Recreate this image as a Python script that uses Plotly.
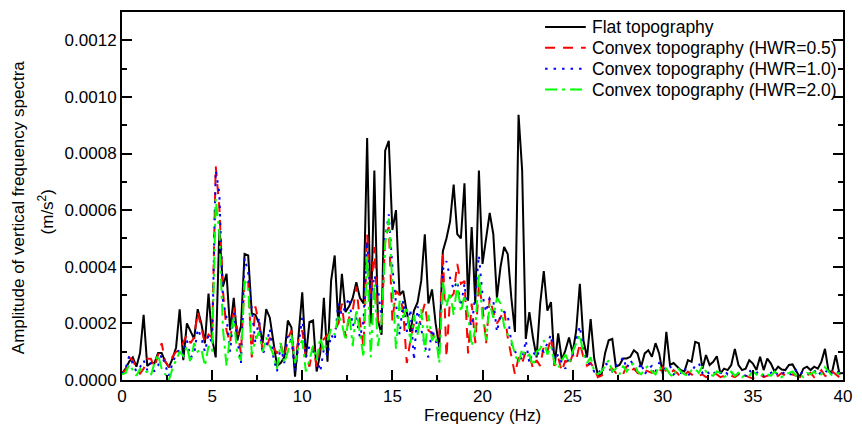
import numpy as np
import plotly.graph_objects as go

# Frequency grid (Hz), 0.2 Hz spacing
freq = np.round(np.arange(201) * 0.2, 1)

# Amplitudes in units of 1e-4 m/s^2
flat = [
    0.23, 0.4, 0.65, 0.8, 0.47, 0.95, 2.3, 0.5, 0.6, 0.6,
    0.95, 0.95, 0.65, 0.45, 0.75, 1.15, 2.5, 0.7, 2.0, 1.7,
    1.45, 2.5, 2.0, 1.3, 3.05, 1.45, 0.8, 5.3, 3.3, 3.75,
    1.75, 2.9, 1.4, 1.9, 4.45, 4.4, 2.35, 2.3, 2.0, 1.3,
    2.5, 2.2, 1.3, 0.5, 0.6, 0.8, 2.1, 1.85, 0.12, 1.75,
    3.1, 0.8, 2.05, 2.1, 0.3, 0.95, 2.9, 0.65, 3.5, 4.4,
    2.0, 3.75, 2.4, 2.6, 2.9, 3.45, 2.9, 2.7, 8.55, 2.0,
    7.4, 2.1, 1.6, 8.1, 8.45, 5.3, 6.0, 3.0, 3.15, 2.4,
    1.7, 2.45, 2.75, 3.5, 5.15, 2.7, 3.2, 2.0, 1.15, 4.55,
    5.0, 5.6, 6.9, 5.15, 5.0, 6.95, 2.8, 5.4, 2.7, 7.4,
    4.1, 5.0, 5.9, 5.15, 2.9, 4.0, 4.7, 4.45, 2.9, 1.7,
    9.37, 7.4, 1.45, 2.4, 1.5, 0.8, 2.7, 3.85, 2.45, 2.75,
    0.5, 1.65, 0.7, 1.05, 1.5, 0.95, 1.75, 3.4, 1.4, 0.8,
    2.15, 0.75, 0.18, 0.18, 0.95, 1.4, 1.45, 0.47, 0.53, 0.76,
    0.76, 0.82, 1.05, 0.94, 0.47, 0.94, 1.05, 0.82, 1.3, 0.94,
    0.23, 1.7, 0.53, 0.6, 0.47, 0.35, 0.3, 0.7, 0.64, 1.35,
    1.3, 0.4, 0.88, 0.53, 0.64, 0.84, 0.23, 0.4, 0.35, 0.53,
    1.1, 0.53, 0.35, 0.4, 0.7, 0.58, 0.35, 0.82, 0.35, 0.76,
    0.58, 0.3, 0.47, 0.37, 0.35, 0.53, 0.55, 0.3, 0.1, 0.4,
    0.47, 0.35, 0.47, 0.4, 0.64, 1.1, 0.3, 0.3, 0.88, 0.23,
    0.25,
]

hwr05 = [
    0.23, 0.35, 0.8, 0.7, 0.4, 0.23, 0.4, 0.75, 0.75, 0.45,
    0.88, 1.3, 0.65, 0.47, 0.82, 1.0, 1.05, 1.3, 1.6, 1.3,
    1.5, 2.4, 1.8, 1.3, 1.6, 1.5, 7.55, 6.1, 3.15, 1.75,
    1.3, 2.6, 1.75, 0.94, 3.6, 3.5, 0.8, 2.6, 2.0, 1.05,
    1.1, 1.5, 1.15, 0.94, 1.3, 0.8, 1.45, 1.75, 0.6, 1.5,
    1.75, 0.8, 0.47, 1.2, 0.47, 1.2, 1.45, 1.6, 1.6, 1.75,
    2.0, 2.7, 1.5, 2.2, 2.45, 3.3, 2.1, 1.15, 5.15, 2.9,
    4.7, 2.1, 1.9, 5.0, 5.4, 2.1, 3.15, 3.0, 2.45, 0.6,
    1.4, 2.0, 1.75, 2.2, 2.7, 1.75, 1.65, 1.4, 1.5, 4.55,
    0.8, 2.9, 3.05, 4.1, 3.4, 3.5, 0.94, 2.7, 1.3, 3.4,
    2.6, 1.3, 2.9, 2.4, 2.0, 2.2, 2.5, 1.5, 0.8, 0.2,
    0.8, 0.6, 1.0, 0.9, 0.4, 0.7, 0.5, 1.2, 1.0, 1.5,
    0.5, 0.8, 0.3, 0.7, 0.5, 0.9, 0.7, 1.3, 0.8, 0.5,
    0.6, 0.4, 0.1, 0.15, 0.3, 0.35, 0.4, 0.25, 0.3, 0.2,
    0.5, 0.3, 0.4, 0.25, 0.2, 0.35, 0.3, 0.25, 0.4, 0.3,
    0.45, 0.3, 0.2, 0.35, 0.25, 0.1, 0.15, 0.3, 0.2, 0.1,
    0.15, 0.2, 0.1, 0.15, 0.25, 0.2, 0.1, 0.15, 0.2, 0.15,
    0.1, 0.2, 0.3, 0.15, 0.1, 0.05, 0.15, 0.2, 0.1, 0.15,
    0.2, 0.1, 0.15, 0.25, 0.15, 0.1, 0.2, 0.15, 0.1, 0.2,
    0.15, 0.25, 0.1, 0.2, 0.35, 0.15, 0.1, 0.3, 0.2, 0.1,
    0.15,
]

hwr10 = [
    0.2, 0.4, 0.85, 0.55, 0.3, 0.45, 0.7, 0.35, 0.6, 0.3,
    0.5, 0.9, 0.55, 0.15, 0.6, 0.9, 1.1, 0.9, 1.4, 0.8,
    0.9, 1.8, 1.5, 1.0, 1.6, 1.3, 7.4, 6.6, 2.8, 2.2,
    1.0, 2.4, 1.4, 0.6, 4.3, 3.8, 2.5, 1.3, 2.2, 0.9,
    1.2, 1.8, 0.8, 0.3, 1.2, 0.6, 1.6, 1.4, 0.3, 1.3,
    2.2, 0.8, 1.2, 1.0, 0.9, 0.3, 1.1, 0.85, 1.6, 1.4,
    2.7, 2.3, 2.6, 2.9, 1.9, 2.2, 1.5, 2.1, 4.9, 2.8,
    3.7, 3.2, 2.2, 5.0, 5.85, 4.0, 2.7, 1.6, 2.8, 1.7,
    2.5, 0.7, 2.6, 1.8, 1.2, 0.8, 1.8, 1.4, 1.0, 3.9,
    4.2, 3.6, 3.2, 3.5, 2.6, 3.4, 2.2, 1.9, 3.0, 4.4,
    3.0, 2.4, 2.9, 2.8, 1.7, 2.3, 2.4, 2.3, 1.3, 1.0,
    0.9, 0.7, 1.4, 0.6, 1.0, 0.8, 1.1, 1.0, 1.3, 1.6,
    0.7, 0.9, 0.6, 0.4, 0.8, 0.9, 1.4, 1.9, 1.0, 0.7,
    0.5, 0.3, 0.4, 0.2, 0.6, 0.5, 0.3, 0.5, 0.6, 0.8,
    0.4, 0.7, 0.5, 0.3, 0.6, 0.2, 0.4, 0.5, 0.3, 0.6,
    0.5, 0.35, 0.5, 0.2, 0.3, 0.25, 0.45, 0.15, 0.3, 0.5,
    0.6, 0.25, 0.35, 0.2, 0.3, 0.15, 0.25, 0.35, 0.2, 0.3,
    0.1, 0.25, 0.2, 0.15, 0.35, 0.2, 0.25, 0.3, 0.15, 0.2,
    0.25, 0.35, 0.15, 0.2, 0.3, 0.25, 0.15, 0.35, 0.2, 0.3,
    0.25, 0.2, 0.35, 0.15, 0.3, 0.25, 0.4, 0.2, 0.3, 0.25,
    0.2,
]

hwr20 = [
    0.2, 0.25, 0.55, 0.35, 0.15, 0.4, 0.25, 0.3, 0.15, 0.6,
    0.9, 0.4, 0.2, 0.0, 0.4, 0.7, 1.0, 0.85, 1.2, 0.6,
    1.3, 1.0, 1.1, 0.5, 1.2, 1.0, 6.4, 5.2, 1.8, 0.5,
    1.6, 2.2, 0.9, 0.7, 3.5, 3.3, 0.9, 1.4, 1.7, 1.0,
    1.5, 1.2, 0.9, 0.4, 1.3, 0.6, 1.0, 1.6, 0.6, 1.2,
    1.4, 0.3, 0.7, 1.2, 0.7, 1.5, 1.0, 1.4, 1.8, 1.6,
    2.3, 2.0, 1.4, 2.4, 1.2, 2.5, 1.6, 0.8, 4.4, 0.8,
    3.4, 1.2, 2.0, 4.8, 5.7, 3.4, 1.1, 2.8, 2.2, 2.6,
    1.3, 2.3, 1.6, 2.5, 1.0, 2.3, 1.4, 1.6, 0.6, 3.5,
    2.6, 3.1, 2.3, 3.4, 2.4, 3.0, 2.3, 1.2, 1.8, 3.8,
    2.2, 1.4, 2.7, 2.2, 2.9, 2.7, 1.9, 1.6, 1.4, 0.9,
    0.6, 1.1, 0.8, 0.9, 0.5, 1.0, 1.1, 1.4, 0.9, 1.2,
    0.6, 0.4, 0.7, 0.9, 0.6, 1.0, 1.3, 1.6, 0.9, 0.6,
    0.8, 0.3, 0.2, 0.3, 0.5, 0.7, 0.3, 0.4, 0.2, 0.5,
    0.3, 0.5, 0.6, 0.3, 0.2, 0.4, 0.5, 0.3, 0.2, 0.5,
    0.3, 0.4, 0.2, 0.1, 0.45, 0.3, 0.2, 0.15, 0.35, 0.4,
    0.25, 0.5, 0.3, 0.2, 0.15, 0.3, 0.25, 0.1, 0.2, 0.3,
    0.15, 0.25, 0.1, 0.2, 0.15, 0.3, 0.2, 0.1, 0.25, 0.2,
    0.15, 0.3, 0.2, 0.1, 0.2, 0.25, 0.3, 0.15, 0.2, 0.1,
    0.25, 0.2, 0.3, 0.15, 0.2, 0.45, 0.3, 0.15, 0.2, 0.25,
    0.15,
]

SCALE = 1e-4  # values above are in 1e-4 m/s^2

series_names = [
    "Flat topography",
    "Convex topography (HWR=0.5)",
    "Convex topography (HWR=1.0)",
    "Convex topography (HWR=2.0)",
]
series_values = [flat, hwr05, hwr10, hwr20]
series_colors = ["#000000", "#ff0000", "#0000ff", "#00ff00"]
series_dash = ["solid", "10px,8px", "2.5px,6px", "12px,5px,3px,5px"]

FONT = "Liberation Sans, Arial, Helvetica, sans-serif"

# plot-area geometry in pixels (for placing legend / title annotations)
W, H = 862, 432
ML, MR, MT, MB = 122, 14, 10, 52
PW, PH = W - ML - MR, H - MT - MB


def px_x(px):
    return (px - ML) / PW


def px_y(py):
    return (H - MB - py) / PH


fig = go.Figure()
for name, vals, col, dash in zip(series_names, series_values, series_colors, series_dash):
    fig.add_trace(go.Scatter(
        x=freq, y=np.array(vals) * SCALE, mode="lines", name=name,
        line=dict(color=col, width=2, dash=dash), showlegend=False,
    ))

axis_common = dict(
    showline=True, linecolor="black", linewidth=2,
    ticks="inside", ticklen=10, tickwidth=1.5, tickcolor="black",
    showgrid=False, zeroline=False,
    tickfont=dict(family=FONT, size=17, color="black"),
)

fig.update_xaxes(
    range=[0, 40], dtick=5, tick0=0, mirror=True,
    minor=dict(ticks="inside", ticklen=5, dtick=2.5, tickwidth=1.5, tickcolor="black"),
    title=dict(text="Frequency (Hz)", font=dict(family=FONT, size=17, color="black"), standoff=2),
    **axis_common,
)
fig.update_yaxes(
    range=[0, 0.0013], dtick=0.0002, tick0=0, tickformat=".4f", mirror="ticks",
    minor=dict(ticks="inside", ticklen=5, dtick=0.0001, tickwidth=1.5, tickcolor="black"),
    ticklabelstandoff=0,
    **axis_common,
)

# y-axis title (two lines)
fig.add_annotation(
    text="Amplitude of vertical frequency spectra", xref="paper", yref="paper",
    x=px_x(18.5), y=px_y(207), xanchor="center", yanchor="middle",
    textangle=-90, showarrow=False, font=dict(family=FONT, size=17, color="black"),
)
fig.add_annotation(
    text="(m/s<sup>2</sup>)", xref="paper", yref="paper",
    x=px_x(45), y=px_y(211), xanchor="center", yanchor="middle",
    textangle=-90, showarrow=False, font=dict(family=FONT, size=17, color="black"),
)

# legend drawn inside the plot, top-right
legend_rows = [25, 46, 67, 88]
for name, col, dash, ry in zip(series_names, series_colors, series_dash, legend_rows):
    fig.add_shape(
        type="line", xref="paper", yref="paper",
        x0=px_x(548), x1=px_x(589), y0=px_y(ry), y1=px_y(ry),
        line=dict(color=col, width=2, dash=dash),
    )
    fig.add_annotation(
        text=name, xref="paper", yref="paper",
        x=px_x(593), y=px_y(ry), xanchor="left", yanchor="middle",
        showarrow=False, font=dict(family=FONT, size=17.5, color="black"),
    )

fig.update_layout(
    width=W, height=H,
    margin=dict(l=ML, r=MR, t=MT, b=MB),
    plot_bgcolor="white", paper_bgcolor="white",
    font=dict(family=FONT, size=17, color="black"),
    showlegend=False,
)

fig.write_html("out.html")
